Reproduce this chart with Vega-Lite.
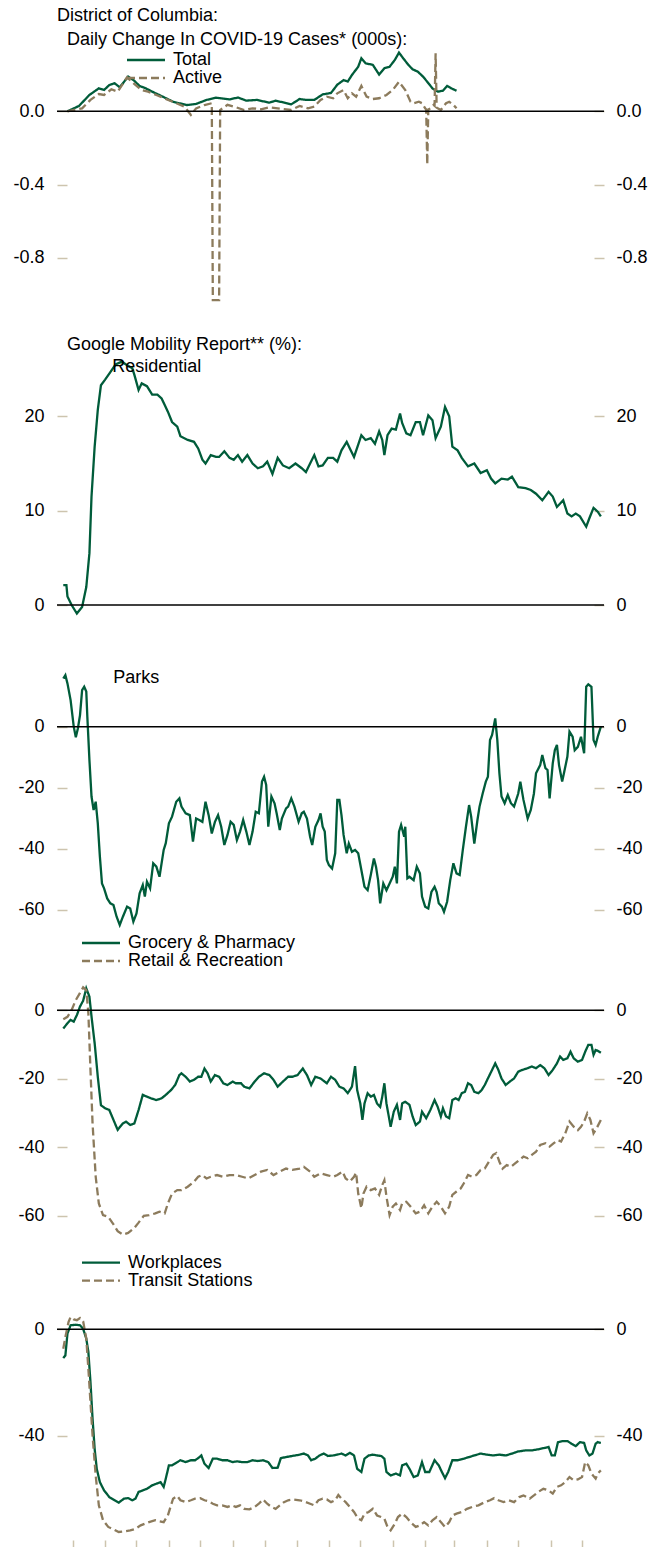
{
"$schema": "https://vega.github.io/schema/vega-lite/v6.json",
"padding": {"left": 12, "top": 0, "right": 0, "bottom": 0},
"background": "white",
"spacing": 0,
"config": {
  "font": "Liberation Sans",
  "view": {"stroke": null},
  "axis": {"grid": false, "domain": false, "labelFontSize": 18, "labelColor": "#000000", "tickColor": "#cdc4ae", "tickWidth": 1.5},
  "legend": {"orient": "none", "symbolType": "M-5,0H5", "symbolSize": 57.76, "symbolStrokeWidth": 2.3, "labelFontSize": 18, "labelColor": "#000000", "labelOffset": 18, "rowPadding": 0, "padding": 0, "labelLimit": 0},
  "title": {"anchor": "start", "frame": "group", "fontSize": 18, "fontWeight": "normal", "color": "#000000", "subtitleFontSize": 18, "subtitleColor": "#000000", "subtitlePadding": 6}
},
"datasets": {
"covid": [
{"date":"2020-02-25","series":"Total","value":0},{"date":"2020-03-07","series":"Total","value":0.029},{"date":"2020-03-17","series":"Total","value":0.089},{"date":"2020-03-26","series":"Total","value":0.125},{"date":"2020-03-31","series":"Total","value":0.116},{"date":"2020-04-05","series":"Total","value":0.143},{"date":"2020-04-10","series":"Total","value":0.153},{"date":"2020-04-15","series":"Total","value":0.131},{"date":"2020-04-23","series":"Total","value":0.189},{"date":"2020-04-28","series":"Total","value":0.171},{"date":"2020-05-04","series":"Total","value":0.138},{"date":"2020-05-10","series":"Total","value":0.125},{"date":"2020-05-16","series":"Total","value":0.107},{"date":"2020-05-26","series":"Total","value":0.08},{"date":"2020-06-05","series":"Total","value":0.052},{"date":"2020-06-18","series":"Total","value":0.034},{"date":"2020-06-27","series":"Total","value":0.04},{"date":"2020-07-07","series":"Total","value":0.062},{"date":"2020-07-16","series":"Total","value":0.074},{"date":"2020-07-29","series":"Total","value":0.065},{"date":"2020-08-06","series":"Total","value":0.075},{"date":"2020-08-14","series":"Total","value":0.058},{"date":"2020-08-24","series":"Total","value":0.062},{"date":"2020-09-05","series":"Total","value":0.047},{"date":"2020-09-11","series":"Total","value":0.058},{"date":"2020-09-26","series":"Total","value":0.038},{"date":"2020-10-04","series":"Total","value":0.067},{"date":"2020-10-10","series":"Total","value":0.062},{"date":"2020-10-18","series":"Total","value":0.062},{"date":"2020-10-26","series":"Total","value":0.092},{"date":"2020-11-03","series":"Total","value":0.1},{"date":"2020-11-09","series":"Total","value":0.145},{"date":"2020-11-15","series":"Total","value":0.17},{"date":"2020-11-19","series":"Total","value":0.162},{"date":"2020-11-23","series":"Total","value":0.198},{"date":"2020-11-29","series":"Total","value":0.243},{"date":"2020-12-02","series":"Total","value":0.289},{"date":"2020-12-06","series":"Total","value":0.262},{"date":"2020-12-13","series":"Total","value":0.253},{"date":"2020-12-19","series":"Total","value":0.2},{"date":"2020-12-24","series":"Total","value":0.235},{"date":"2020-12-29","series":"Total","value":0.243},{"date":"2021-01-03","series":"Total","value":0.28},{"date":"2021-01-07","series":"Total","value":0.32},{"date":"2021-01-11","series":"Total","value":0.289},{"date":"2021-01-16","series":"Total","value":0.253},{"date":"2021-01-20","series":"Total","value":0.229},{"date":"2021-01-25","series":"Total","value":0.216},{"date":"2021-01-30","series":"Total","value":0.189},{"date":"2021-02-03","series":"Total","value":0.161},{"date":"2021-02-08","series":"Total","value":0.125},{"date":"2021-02-13","series":"Total","value":0.107},{"date":"2021-02-18","series":"Total","value":0.112},{"date":"2021-02-22","series":"Total","value":0.138},{"date":"2021-02-26","series":"Total","value":0.125},{"date":"2021-03-03","series":"Total","value":0.112},
{"date":"2020-02-25","series":"Active","value":0},{"date":"2020-03-10","series":"Active","value":0.016},{"date":"2020-03-18","series":"Active","value":0.062},{"date":"2020-03-26","series":"Active","value":0.094},{"date":"2020-03-31","series":"Active","value":0.089},{"date":"2020-04-07","series":"Active","value":0.12},{"date":"2020-04-13","series":"Active","value":0.107},{"date":"2020-04-22","series":"Active","value":0.185},{"date":"2020-04-28","series":"Active","value":0.153},{"date":"2020-05-06","series":"Active","value":0.116},{"date":"2020-05-12","series":"Active","value":0.107},{"date":"2020-05-20","series":"Active","value":0.089},{"date":"2020-05-30","series":"Active","value":0.065},{"date":"2020-06-08","series":"Active","value":0.044},{"date":"2020-06-16","series":"Active","value":0.025},{"date":"2020-06-22","series":"Active","value":-0.02},{"date":"2020-06-27","series":"Active","value":0.016},{"date":"2020-07-05","series":"Active","value":0.034},{"date":"2020-07-12","series":"Active","value":0.044},{"date":"2020-07-13","series":"Active","value":-1.03},{"date":"2020-07-19","series":"Active","value":-1.03},{"date":"2020-07-20","series":"Active","value":0.007},{"date":"2020-07-27","series":"Active","value":0.035},{"date":"2020-08-04","series":"Active","value":0.022},{"date":"2020-08-12","series":"Active","value":0.007},{"date":"2020-08-20","series":"Active","value":0.016},{"date":"2020-08-28","series":"Active","value":0.011},{"date":"2020-09-05","series":"Active","value":0.022},{"date":"2020-09-13","series":"Active","value":0.016},{"date":"2020-09-26","series":"Active","value":0.007},{"date":"2020-10-04","series":"Active","value":0.029},{"date":"2020-10-12","series":"Active","value":0.016},{"date":"2020-10-18","series":"Active","value":0.025},{"date":"2020-10-24","series":"Active","value":0.062},{"date":"2020-10-30","series":"Active","value":0.08},{"date":"2020-11-05","series":"Active","value":0.071},{"date":"2020-11-09","series":"Active","value":0.098},{"date":"2020-11-15","series":"Active","value":0.116},{"date":"2020-11-19","series":"Active","value":0.071},{"date":"2020-11-23","series":"Active","value":0.098},{"date":"2020-11-27","series":"Active","value":0.08},{"date":"2020-12-02","series":"Active","value":0.138},{"date":"2020-12-07","series":"Active","value":0.08},{"date":"2020-12-13","series":"Active","value":0.067},{"date":"2020-12-19","series":"Active","value":0.071},{"date":"2020-12-26","series":"Active","value":0.089},{"date":"2021-01-01","series":"Active","value":0.116},{"date":"2021-01-07","series":"Active","value":0.161},{"date":"2021-01-13","series":"Active","value":0.116},{"date":"2021-01-18","series":"Active","value":0.052},{"date":"2021-01-21","series":"Active","value":0.044},{"date":"2021-01-26","series":"Active","value":0.052},{"date":"2021-01-29","series":"Active","value":0.044},{"date":"2021-02-01","series":"Active","value":0.016},{"date":"2021-02-02","series":"Active","value":0.01},{"date":"2021-02-03","series":"Active","value":-0.29},{"date":"2021-02-04","series":"Active","value":0.01},{"date":"2021-02-06","series":"Active","value":0.016},{"date":"2021-02-09","series":"Active","value":0.035},{"date":"2021-02-10","series":"Active","value":0.03},{"date":"2021-02-11","series":"Active","value":0.316},{"date":"2021-02-12","series":"Active","value":0.02},{"date":"2021-02-13","series":"Active","value":0.016},{"date":"2021-02-16","series":"Active","value":0.007},{"date":"2021-02-21","series":"Active","value":0.044},{"date":"2021-02-24","series":"Active","value":0.052},{"date":"2021-02-28","series":"Active","value":0.035},{"date":"2021-03-03","series":"Active","value":0.016}
],
"residential": [
{"date":"2020-02-21","series":"Residential","value":2.1},{"date":"2020-02-24","series":"Residential","value":2.1},{"date":"2020-02-25","series":"Residential","value":0.9},{"date":"2020-02-29","series":"Residential","value":0},{"date":"2020-03-05","series":"Residential","value":-0.9},{"date":"2020-03-10","series":"Residential","value":-0.2},{"date":"2020-03-14","series":"Residential","value":1.9},{"date":"2020-03-17","series":"Residential","value":5.5},{"date":"2020-03-19","series":"Residential","value":11.5},{"date":"2020-03-22","series":"Residential","value":16.8},{"date":"2020-03-25","series":"Residential","value":20.7},{"date":"2020-03-28","series":"Residential","value":23.3},{"date":"2020-04-01","series":"Residential","value":23.9},{"date":"2020-04-06","series":"Residential","value":24.7},{"date":"2020-04-11","series":"Residential","value":25.5},{"date":"2020-04-17","series":"Residential","value":25.8},{"date":"2020-04-21","series":"Residential","value":25.5},{"date":"2020-04-27","series":"Residential","value":25.1},{"date":"2020-04-29","series":"Residential","value":24.4},{"date":"2020-05-03","series":"Residential","value":22.8},{"date":"2020-05-06","series":"Residential","value":23.5},{"date":"2020-05-11","series":"Residential","value":23.2},{"date":"2020-05-16","series":"Residential","value":22.3},{"date":"2020-05-21","series":"Residential","value":22.3},{"date":"2020-05-25","series":"Residential","value":21.9},{"date":"2020-05-28","series":"Residential","value":21.2},{"date":"2020-05-31","series":"Residential","value":20.5},{"date":"2020-06-04","series":"Residential","value":19.4},{"date":"2020-06-09","series":"Residential","value":18.9},{"date":"2020-06-12","series":"Residential","value":17.9},{"date":"2020-06-19","series":"Residential","value":17.5},{"date":"2020-06-25","series":"Residential","value":17.3},{"date":"2020-06-29","series":"Residential","value":16.6},{"date":"2020-07-03","series":"Residential","value":15.4},{"date":"2020-07-06","series":"Residential","value":15.0},{"date":"2020-07-11","series":"Residential","value":15.9},{"date":"2020-07-16","series":"Residential","value":15.7},{"date":"2020-07-19","series":"Residential","value":15.7},{"date":"2020-07-24","series":"Residential","value":16.3},{"date":"2020-07-29","series":"Residential","value":15.6},{"date":"2020-08-02","series":"Residential","value":15.4},{"date":"2020-08-06","series":"Residential","value":15.9},{"date":"2020-08-10","series":"Residential","value":15.2},{"date":"2020-08-15","series":"Residential","value":15.9},{"date":"2020-08-20","series":"Residential","value":15.0},{"date":"2020-08-25","series":"Residential","value":14.5},{"date":"2020-08-30","series":"Residential","value":14.7},{"date":"2020-09-03","series":"Residential","value":15.2},{"date":"2020-09-08","series":"Residential","value":13.9},{"date":"2020-09-13","series":"Residential","value":15.6},{"date":"2020-09-18","series":"Residential","value":14.8},{"date":"2020-09-24","series":"Residential","value":14.5},{"date":"2020-09-30","series":"Residential","value":15.0},{"date":"2020-10-06","series":"Residential","value":14.5},{"date":"2020-10-10","series":"Residential","value":14.1},{"date":"2020-10-14","series":"Residential","value":15.0},{"date":"2020-10-18","series":"Residential","value":15.9},{"date":"2020-10-22","series":"Residential","value":14.7},{"date":"2020-10-26","series":"Residential","value":14.8},{"date":"2020-10-31","series":"Residential","value":15.6},{"date":"2020-11-05","series":"Residential","value":15.6},{"date":"2020-11-09","series":"Residential","value":15.2},{"date":"2020-11-13","series":"Residential","value":16.4},{"date":"2020-11-18","series":"Residential","value":17.3},{"date":"2020-11-21","series":"Residential","value":16.6},{"date":"2020-11-25","series":"Residential","value":15.7},{"date":"2020-11-29","series":"Residential","value":17.0},{"date":"2020-12-02","series":"Residential","value":18.0},{"date":"2020-12-06","series":"Residential","value":17.5},{"date":"2020-12-11","series":"Residential","value":17.7},{"date":"2020-12-15","series":"Residential","value":17.1},{"date":"2020-12-19","series":"Residential","value":18.4},{"date":"2020-12-22","series":"Residential","value":17.5},{"date":"2020-12-24","series":"Residential","value":15.9},{"date":"2020-12-27","series":"Residential","value":18.0},{"date":"2020-12-31","series":"Residential","value":18.7},{"date":"2021-01-04","series":"Residential","value":18.6},{"date":"2021-01-08","series":"Residential","value":20.3},{"date":"2021-01-10","series":"Residential","value":19.3},{"date":"2021-01-14","series":"Residential","value":18.2},{"date":"2021-01-18","series":"Residential","value":18.0},{"date":"2021-01-23","series":"Residential","value":19.4},{"date":"2021-01-27","series":"Residential","value":19.4},{"date":"2021-01-30","series":"Residential","value":18.0},{"date":"2021-02-04","series":"Residential","value":20.1},{"date":"2021-02-08","series":"Residential","value":19.6},{"date":"2021-02-11","series":"Residential","value":17.7},{"date":"2021-02-16","series":"Residential","value":18.9},{"date":"2021-02-20","series":"Residential","value":21.0},{"date":"2021-02-24","series":"Residential","value":20.0},{"date":"2021-02-27","series":"Residential","value":16.8},{"date":"2021-03-04","series":"Residential","value":16.4},{"date":"2021-03-08","series":"Residential","value":15.6},{"date":"2021-03-14","series":"Residential","value":14.7},{"date":"2021-03-20","series":"Residential","value":15.0},{"date":"2021-03-26","series":"Residential","value":14.0},{"date":"2021-04-01","series":"Residential","value":14.3},{"date":"2021-04-05","series":"Residential","value":13.4},{"date":"2021-04-09","series":"Residential","value":12.9},{"date":"2021-04-15","series":"Residential","value":13.4},{"date":"2021-04-21","series":"Residential","value":13.3},{"date":"2021-04-25","series":"Residential","value":13.6},{"date":"2021-05-01","series":"Residential","value":12.5},{"date":"2021-05-08","series":"Residential","value":12.4},{"date":"2021-05-13","series":"Residential","value":12.2},{"date":"2021-05-18","series":"Residential","value":11.8},{"date":"2021-05-24","series":"Residential","value":11.1},{"date":"2021-05-30","series":"Residential","value":12.0},{"date":"2021-06-03","series":"Residential","value":11.5},{"date":"2021-06-07","series":"Residential","value":10.4},{"date":"2021-06-13","series":"Residential","value":11.1},{"date":"2021-06-17","series":"Residential","value":9.7},{"date":"2021-06-21","series":"Residential","value":9.4},{"date":"2021-06-25","series":"Residential","value":9.7},{"date":"2021-06-29","series":"Residential","value":9.4},{"date":"2021-07-05","series":"Residential","value":8.3},{"date":"2021-07-08","series":"Residential","value":9.2},{"date":"2021-07-12","series":"Residential","value":10.3},{"date":"2021-07-16","series":"Residential","value":9.9},{"date":"2021-07-19","series":"Residential","value":9.4}
],
"parks": [
{"date":"2020-02-21","series":"Parks","value":15.8},{"date":"2020-02-23","series":"Parks","value":16.9},{"date":"2020-02-25","series":"Parks","value":14.2},{"date":"2020-02-28","series":"Parks","value":8.7},{"date":"2020-03-02","series":"Parks","value":0},{"date":"2020-03-04","series":"Parks","value":-3.5},{"date":"2020-03-06","series":"Parks","value":-0.5},{"date":"2020-03-08","series":"Parks","value":3.8},{"date":"2020-03-10","series":"Parks","value":12.0},{"date":"2020-03-12","series":"Parks","value":13.1},{"date":"2020-03-14","series":"Parks","value":11.5},{"date":"2020-03-15","series":"Parks","value":3.3},{"date":"2020-03-17","series":"Parks","value":-10.9},{"date":"2020-03-19","series":"Parks","value":-22.9},{"date":"2020-03-21","series":"Parks","value":-27.3},{"date":"2020-03-23","series":"Parks","value":-24.6},{"date":"2020-03-25","series":"Parks","value":-31.7},{"date":"2020-03-27","series":"Parks","value":-42.6},{"date":"2020-03-29","series":"Parks","value":-51.4},{"date":"2020-03-31","series":"Parks","value":-53.0},{"date":"2020-04-03","series":"Parks","value":-56.3},{"date":"2020-04-06","series":"Parks","value":-57.9},{"date":"2020-04-09","series":"Parks","value":-58.5},{"date":"2020-04-12","series":"Parks","value":-62.3},{"date":"2020-04-15","series":"Parks","value":-65.0},{"date":"2020-04-18","series":"Parks","value":-62.3},{"date":"2020-04-22","series":"Parks","value":-59.0},{"date":"2020-04-25","series":"Parks","value":-59.6},{"date":"2020-04-28","series":"Parks","value":-63.9},{"date":"2020-05-01","series":"Parks","value":-61.2},{"date":"2020-05-04","series":"Parks","value":-54.6},{"date":"2020-05-07","series":"Parks","value":-51.9},{"date":"2020-05-09","series":"Parks","value":-55.7},{"date":"2020-05-11","series":"Parks","value":-50.8},{"date":"2020-05-14","series":"Parks","value":-53.0},{"date":"2020-05-17","series":"Parks","value":-44.8},{"date":"2020-05-20","series":"Parks","value":-45.9},{"date":"2020-05-23","series":"Parks","value":-49.2},{"date":"2020-05-27","series":"Parks","value":-40.4},{"date":"2020-05-29","series":"Parks","value":-38.2},{"date":"2020-06-01","series":"Parks","value":-31.7},{"date":"2020-06-04","series":"Parks","value":-29.5},{"date":"2020-06-08","series":"Parks","value":-24.6},{"date":"2020-06-11","series":"Parks","value":-23.5},{"date":"2020-06-13","series":"Parks","value":-26.2},{"date":"2020-06-17","series":"Parks","value":-28.4},{"date":"2020-06-21","series":"Parks","value":-29.0},{"date":"2020-06-24","series":"Parks","value":-37.7},{"date":"2020-06-27","series":"Parks","value":-30.1},{"date":"2020-06-30","series":"Parks","value":-30.6},{"date":"2020-07-03","series":"Parks","value":-31.2},{"date":"2020-07-06","series":"Parks","value":-24.6},{"date":"2020-07-09","series":"Parks","value":-29.0},{"date":"2020-07-12","series":"Parks","value":-35.0},{"date":"2020-07-15","series":"Parks","value":-31.2},{"date":"2020-07-18","series":"Parks","value":-29.0},{"date":"2020-07-21","series":"Parks","value":-32.8},{"date":"2020-07-24","series":"Parks","value":-38.8},{"date":"2020-07-27","series":"Parks","value":-35.5},{"date":"2020-07-30","series":"Parks","value":-31.2},{"date":"2020-08-02","series":"Parks","value":-32.2},{"date":"2020-08-05","series":"Parks","value":-37.2},{"date":"2020-08-08","series":"Parks","value":-34.4},{"date":"2020-08-11","series":"Parks","value":-30.6},{"date":"2020-08-14","series":"Parks","value":-34.4},{"date":"2020-08-17","series":"Parks","value":-38.8},{"date":"2020-08-20","series":"Parks","value":-34.4},{"date":"2020-08-23","series":"Parks","value":-27.9},{"date":"2020-08-26","series":"Parks","value":-28.4},{"date":"2020-08-29","series":"Parks","value":-18.0},{"date":"2020-08-31","series":"Parks","value":-16.4},{"date":"2020-09-02","series":"Parks","value":-19.1},{"date":"2020-09-04","series":"Parks","value":-32.8},{"date":"2020-09-07","series":"Parks","value":-22.9},{"date":"2020-09-10","series":"Parks","value":-25.1},{"date":"2020-09-12","series":"Parks","value":-28.4},{"date":"2020-09-15","series":"Parks","value":-33.9},{"date":"2020-09-17","series":"Parks","value":-30.1},{"date":"2020-09-21","series":"Parks","value":-26.8},{"date":"2020-09-23","series":"Parks","value":-26.2},{"date":"2020-09-26","series":"Parks","value":-23.5},{"date":"2020-09-29","series":"Parks","value":-26.2},{"date":"2020-10-03","series":"Parks","value":-31.2},{"date":"2020-10-06","series":"Parks","value":-28.4},{"date":"2020-10-08","series":"Parks","value":-27.9},{"date":"2020-10-11","series":"Parks","value":-30.1},{"date":"2020-10-14","series":"Parks","value":-36.1},{"date":"2020-10-16","series":"Parks","value":-38.8},{"date":"2020-10-19","series":"Parks","value":-32.8},{"date":"2020-10-22","series":"Parks","value":-30.6},{"date":"2020-10-24","series":"Parks","value":-28.4},{"date":"2020-10-26","series":"Parks","value":-32.8},{"date":"2020-10-28","series":"Parks","value":-34.4},{"date":"2020-10-30","series":"Parks","value":-43.7},{"date":"2020-11-01","series":"Parks","value":-45.4},{"date":"2020-11-04","series":"Parks","value":-46.5},{"date":"2020-11-07","series":"Parks","value":-41.5},{"date":"2020-11-09","series":"Parks","value":-24.0},{"date":"2020-11-11","series":"Parks","value":-24.0},{"date":"2020-11-13","series":"Parks","value":-29.0},{"date":"2020-11-15","series":"Parks","value":-35.5},{"date":"2020-11-18","series":"Parks","value":-41.5},{"date":"2020-11-20","series":"Parks","value":-38.3},{"date":"2020-11-23","series":"Parks","value":-41.0},{"date":"2020-11-26","series":"Parks","value":-40.4},{"date":"2020-11-29","series":"Parks","value":-41.5},{"date":"2020-12-02","series":"Parks","value":-47.0},{"date":"2020-12-05","series":"Parks","value":-52.5},{"date":"2020-12-08","series":"Parks","value":-53.6},{"date":"2020-12-11","series":"Parks","value":-48.6},{"date":"2020-12-14","series":"Parks","value":-43.2},{"date":"2020-12-16","series":"Parks","value":-45.9},{"date":"2020-12-18","series":"Parks","value":-50.3},{"date":"2020-12-20","series":"Parks","value":-57.9},{"date":"2020-12-23","series":"Parks","value":-51.4},{"date":"2020-12-26","series":"Parks","value":-53.6},{"date":"2020-12-29","series":"Parks","value":-51.4},{"date":"2021-01-01","series":"Parks","value":-49.2},{"date":"2021-01-03","series":"Parks","value":-45.9},{"date":"2021-01-05","series":"Parks","value":-51.4},{"date":"2021-01-07","series":"Parks","value":-34.4},{"date":"2021-01-09","series":"Parks","value":-32.2},{"date":"2021-01-12","series":"Parks","value":-36.1},{"date":"2021-01-13","series":"Parks","value":-32.8},{"date":"2021-01-15","series":"Parks","value":-49.7},{"date":"2021-01-17","series":"Parks","value":-49.2},{"date":"2021-01-21","series":"Parks","value":-50.3},{"date":"2021-01-24","series":"Parks","value":-45.9},{"date":"2021-01-27","series":"Parks","value":-48.1},{"date":"2021-01-29","series":"Parks","value":-55.7},{"date":"2021-02-01","series":"Parks","value":-59.0},{"date":"2021-02-04","series":"Parks","value":-59.6},{"date":"2021-02-07","series":"Parks","value":-54.2},{"date":"2021-02-10","series":"Parks","value":-52.5},{"date":"2021-02-12","series":"Parks","value":-54.2},{"date":"2021-02-14","series":"Parks","value":-57.9},{"date":"2021-02-17","series":"Parks","value":-59.0},{"date":"2021-02-19","series":"Parks","value":-60.7},{"date":"2021-02-22","series":"Parks","value":-57.4},{"date":"2021-02-25","series":"Parks","value":-50.3},{"date":"2021-02-28","series":"Parks","value":-44.8},{"date":"2021-03-03","series":"Parks","value":-48.1},{"date":"2021-03-06","series":"Parks","value":-48.6},{"date":"2021-03-09","series":"Parks","value":-40.4},{"date":"2021-03-12","series":"Parks","value":-32.8},{"date":"2021-03-15","series":"Parks","value":-25.7},{"date":"2021-03-17","series":"Parks","value":-29.5},{"date":"2021-03-20","series":"Parks","value":-38.3},{"date":"2021-03-23","series":"Parks","value":-30.6},{"date":"2021-03-25","series":"Parks","value":-26.2},{"date":"2021-03-28","series":"Parks","value":-21.9},{"date":"2021-03-31","series":"Parks","value":-18.0},{"date":"2021-04-02","series":"Parks","value":-16.4},{"date":"2021-04-04","series":"Parks","value":-4.4},{"date":"2021-04-06","series":"Parks","value":-2.7},{"date":"2021-04-09","series":"Parks","value":2.7},{"date":"2021-04-11","series":"Parks","value":-4.4},{"date":"2021-04-13","series":"Parks","value":-15.3},{"date":"2021-04-15","series":"Parks","value":-22.9},{"date":"2021-04-18","series":"Parks","value":-25.1},{"date":"2021-04-21","series":"Parks","value":-22.4},{"date":"2021-04-24","series":"Parks","value":-25.1},{"date":"2021-04-27","series":"Parks","value":-26.2},{"date":"2021-05-01","series":"Parks","value":-21.9},{"date":"2021-05-03","series":"Parks","value":-18.0},{"date":"2021-05-06","series":"Parks","value":-24.0},{"date":"2021-05-10","series":"Parks","value":-30.1},{"date":"2021-05-13","series":"Parks","value":-27.3},{"date":"2021-05-16","series":"Parks","value":-21.9},{"date":"2021-05-18","series":"Parks","value":-15.3},{"date":"2021-05-22","series":"Parks","value":-12.6},{"date":"2021-05-24","series":"Parks","value":-9.3},{"date":"2021-05-27","series":"Parks","value":-13.6},{"date":"2021-05-29","series":"Parks","value":-14.2},{"date":"2021-05-31","series":"Parks","value":-23.5},{"date":"2021-06-03","series":"Parks","value":-12.0},{"date":"2021-06-05","series":"Parks","value":-7.7},{"date":"2021-06-07","series":"Parks","value":-6.0},{"date":"2021-06-09","series":"Parks","value":-12.6},{"date":"2021-06-12","series":"Parks","value":-18.0},{"date":"2021-06-14","series":"Parks","value":-14.8},{"date":"2021-06-17","series":"Parks","value":-9.8},{"date":"2021-06-19","series":"Parks","value":-1.6},{"date":"2021-06-22","series":"Parks","value":-3.3},{"date":"2021-06-24","series":"Parks","value":-7.7},{"date":"2021-06-27","series":"Parks","value":-6.6},{"date":"2021-06-30","series":"Parks","value":-3.3},{"date":"2021-07-03","series":"Parks","value":-8.7},{"date":"2021-07-05","series":"Parks","value":13.1},{"date":"2021-07-07","series":"Parks","value":13.9},{"date":"2021-07-10","series":"Parks","value":13.1},{"date":"2021-07-12","series":"Parks","value":-4.4},{"date":"2021-07-14","series":"Parks","value":-6.0},{"date":"2021-07-16","series":"Parks","value":-3.3},{"date":"2021-07-19","series":"Parks","value":0}
],
"grocery": [
{"date":"2020-02-21","series":"Grocery & Pharmacy","value":-5.3},{"date":"2020-02-25","series":"Grocery & Pharmacy","value":-3.8},{"date":"2020-02-28","series":"Grocery & Pharmacy","value":-2.8},{"date":"2020-03-02","series":"Grocery & Pharmacy","value":-3.3},{"date":"2020-03-05","series":"Grocery & Pharmacy","value":-1.4},{"date":"2020-03-08","series":"Grocery & Pharmacy","value":1.1},{"date":"2020-03-11","series":"Grocery & Pharmacy","value":2.8},{"date":"2020-03-14","series":"Grocery & Pharmacy","value":6.4},{"date":"2020-03-17","series":"Grocery & Pharmacy","value":4.0},{"date":"2020-03-19","series":"Grocery & Pharmacy","value":-1.8},{"date":"2020-03-22","series":"Grocery & Pharmacy","value":-9.6},{"date":"2020-03-25","series":"Grocery & Pharmacy","value":-19.4},{"date":"2020-03-28","series":"Grocery & Pharmacy","value":-27.7},{"date":"2020-04-01","series":"Grocery & Pharmacy","value":-28.6},{"date":"2020-04-05","series":"Grocery & Pharmacy","value":-29.1},{"date":"2020-04-09","series":"Grocery & Pharmacy","value":-32.0},{"date":"2020-04-13","series":"Grocery & Pharmacy","value":-34.9},{"date":"2020-04-18","series":"Grocery & Pharmacy","value":-33.0},{"date":"2020-04-21","series":"Grocery & Pharmacy","value":-32.5},{"date":"2020-04-25","series":"Grocery & Pharmacy","value":-33.5},{"date":"2020-04-29","series":"Grocery & Pharmacy","value":-33.0},{"date":"2020-05-03","series":"Grocery & Pharmacy","value":-29.1},{"date":"2020-05-07","series":"Grocery & Pharmacy","value":-24.7},{"date":"2020-05-11","series":"Grocery & Pharmacy","value":-25.2},{"date":"2020-05-15","series":"Grocery & Pharmacy","value":-25.7},{"date":"2020-05-20","series":"Grocery & Pharmacy","value":-26.2},{"date":"2020-05-25","series":"Grocery & Pharmacy","value":-25.7},{"date":"2020-05-29","series":"Grocery & Pharmacy","value":-24.7},{"date":"2020-06-03","series":"Grocery & Pharmacy","value":-23.3},{"date":"2020-06-07","series":"Grocery & Pharmacy","value":-21.8},{"date":"2020-06-11","series":"Grocery & Pharmacy","value":-18.9},{"date":"2020-06-13","series":"Grocery & Pharmacy","value":-18.4},{"date":"2020-06-17","series":"Grocery & Pharmacy","value":-19.4},{"date":"2020-06-21","series":"Grocery & Pharmacy","value":-20.8},{"date":"2020-06-25","series":"Grocery & Pharmacy","value":-20.3},{"date":"2020-06-29","series":"Grocery & Pharmacy","value":-19.4},{"date":"2020-07-02","series":"Grocery & Pharmacy","value":-19.4},{"date":"2020-07-05","series":"Grocery & Pharmacy","value":-17.0},{"date":"2020-07-08","series":"Grocery & Pharmacy","value":-18.4},{"date":"2020-07-11","series":"Grocery & Pharmacy","value":-20.8},{"date":"2020-07-15","series":"Grocery & Pharmacy","value":-18.9},{"date":"2020-07-19","series":"Grocery & Pharmacy","value":-19.4},{"date":"2020-07-23","series":"Grocery & Pharmacy","value":-21.3},{"date":"2020-07-27","series":"Grocery & Pharmacy","value":-21.8},{"date":"2020-08-01","series":"Grocery & Pharmacy","value":-20.8},{"date":"2020-08-04","series":"Grocery & Pharmacy","value":-21.3},{"date":"2020-08-09","series":"Grocery & Pharmacy","value":-21.3},{"date":"2020-08-12","series":"Grocery & Pharmacy","value":-22.3},{"date":"2020-08-17","series":"Grocery & Pharmacy","value":-22.8},{"date":"2020-08-22","series":"Grocery & Pharmacy","value":-20.8},{"date":"2020-08-26","series":"Grocery & Pharmacy","value":-19.4},{"date":"2020-08-31","series":"Grocery & Pharmacy","value":-18.4},{"date":"2020-09-05","series":"Grocery & Pharmacy","value":-18.9},{"date":"2020-09-09","series":"Grocery & Pharmacy","value":-20.3},{"date":"2020-09-13","series":"Grocery & Pharmacy","value":-22.3},{"date":"2020-09-18","series":"Grocery & Pharmacy","value":-20.8},{"date":"2020-09-23","series":"Grocery & Pharmacy","value":-19.4},{"date":"2020-09-27","series":"Grocery & Pharmacy","value":-19.4},{"date":"2020-10-02","series":"Grocery & Pharmacy","value":-18.9},{"date":"2020-10-07","series":"Grocery & Pharmacy","value":-17.0},{"date":"2020-10-11","series":"Grocery & Pharmacy","value":-18.9},{"date":"2020-10-15","series":"Grocery & Pharmacy","value":-21.8},{"date":"2020-10-19","series":"Grocery & Pharmacy","value":-19.4},{"date":"2020-10-24","series":"Grocery & Pharmacy","value":-19.9},{"date":"2020-10-30","series":"Grocery & Pharmacy","value":-21.3},{"date":"2020-11-03","series":"Grocery & Pharmacy","value":-19.4},{"date":"2020-11-07","series":"Grocery & Pharmacy","value":-20.3},{"date":"2020-11-11","series":"Grocery & Pharmacy","value":-22.3},{"date":"2020-11-15","series":"Grocery & Pharmacy","value":-22.8},{"date":"2020-11-19","series":"Grocery & Pharmacy","value":-24.2},{"date":"2020-11-23","series":"Grocery & Pharmacy","value":-22.3},{"date":"2020-11-26","series":"Grocery & Pharmacy","value":-16.3},{"date":"2020-11-28","series":"Grocery & Pharmacy","value":-23.3},{"date":"2020-12-01","series":"Grocery & Pharmacy","value":-27.2},{"date":"2020-12-03","series":"Grocery & Pharmacy","value":-32.0},{"date":"2020-12-05","series":"Grocery & Pharmacy","value":-27.2},{"date":"2020-12-08","series":"Grocery & Pharmacy","value":-24.2},{"date":"2020-12-11","series":"Grocery & Pharmacy","value":-25.2},{"date":"2020-12-14","series":"Grocery & Pharmacy","value":-24.7},{"date":"2020-12-17","series":"Grocery & Pharmacy","value":-27.2},{"date":"2020-12-20","series":"Grocery & Pharmacy","value":-28.2},{"date":"2020-12-22","series":"Grocery & Pharmacy","value":-25.2},{"date":"2020-12-24","series":"Grocery & Pharmacy","value":-21.3},{"date":"2020-12-26","series":"Grocery & Pharmacy","value":-27.2},{"date":"2020-12-28","series":"Grocery & Pharmacy","value":-30.6},{"date":"2020-12-30","series":"Grocery & Pharmacy","value":-34.0},{"date":"2021-01-02","series":"Grocery & Pharmacy","value":-29.6},{"date":"2021-01-05","series":"Grocery & Pharmacy","value":-27.6},{"date":"2021-01-08","series":"Grocery & Pharmacy","value":-32.0},{"date":"2021-01-10","series":"Grocery & Pharmacy","value":-27.2},{"date":"2021-01-13","series":"Grocery & Pharmacy","value":-26.7},{"date":"2021-01-17","series":"Grocery & Pharmacy","value":-27.6},{"date":"2021-01-20","series":"Grocery & Pharmacy","value":-31.0},{"date":"2021-01-23","series":"Grocery & Pharmacy","value":-33.5},{"date":"2021-01-27","series":"Grocery & Pharmacy","value":-32.5},{"date":"2021-01-29","series":"Grocery & Pharmacy","value":-29.6},{"date":"2021-02-02","series":"Grocery & Pharmacy","value":-31.5},{"date":"2021-02-06","series":"Grocery & Pharmacy","value":-29.1},{"date":"2021-02-10","series":"Grocery & Pharmacy","value":-26.2},{"date":"2021-02-13","series":"Grocery & Pharmacy","value":-28.2},{"date":"2021-02-16","series":"Grocery & Pharmacy","value":-31.0},{"date":"2021-02-18","series":"Grocery & Pharmacy","value":-28.6},{"date":"2021-02-21","series":"Grocery & Pharmacy","value":-31.0},{"date":"2021-02-24","series":"Grocery & Pharmacy","value":-31.5},{"date":"2021-02-27","series":"Grocery & Pharmacy","value":-26.2},{"date":"2021-03-02","series":"Grocery & Pharmacy","value":-25.7},{"date":"2021-03-05","series":"Grocery & Pharmacy","value":-26.2},{"date":"2021-03-08","series":"Grocery & Pharmacy","value":-24.2},{"date":"2021-03-11","series":"Grocery & Pharmacy","value":-23.8},{"date":"2021-03-14","series":"Grocery & Pharmacy","value":-21.3},{"date":"2021-03-17","series":"Grocery & Pharmacy","value":-21.8},{"date":"2021-03-20","series":"Grocery & Pharmacy","value":-23.8},{"date":"2021-03-24","series":"Grocery & Pharmacy","value":-24.2},{"date":"2021-03-27","series":"Grocery & Pharmacy","value":-23.3},{"date":"2021-03-30","series":"Grocery & Pharmacy","value":-21.8},{"date":"2021-04-02","series":"Grocery & Pharmacy","value":-19.9},{"date":"2021-04-06","series":"Grocery & Pharmacy","value":-17.4},{"date":"2021-04-09","series":"Grocery & Pharmacy","value":-15.5},{"date":"2021-04-12","series":"Grocery & Pharmacy","value":-17.4},{"date":"2021-04-15","series":"Grocery & Pharmacy","value":-19.9},{"date":"2021-04-19","series":"Grocery & Pharmacy","value":-21.8},{"date":"2021-04-23","series":"Grocery & Pharmacy","value":-20.8},{"date":"2021-04-27","series":"Grocery & Pharmacy","value":-19.9},{"date":"2021-05-01","series":"Grocery & Pharmacy","value":-17.9},{"date":"2021-05-05","series":"Grocery & Pharmacy","value":-17.4},{"date":"2021-05-10","series":"Grocery & Pharmacy","value":-16.9},{"date":"2021-05-14","series":"Grocery & Pharmacy","value":-16.4},{"date":"2021-05-18","series":"Grocery & Pharmacy","value":-16.9},{"date":"2021-05-22","series":"Grocery & Pharmacy","value":-16.0},{"date":"2021-05-26","series":"Grocery & Pharmacy","value":-16.9},{"date":"2021-05-30","series":"Grocery & Pharmacy","value":-18.9},{"date":"2021-06-03","series":"Grocery & Pharmacy","value":-17.4},{"date":"2021-06-07","series":"Grocery & Pharmacy","value":-15.5},{"date":"2021-06-10","series":"Grocery & Pharmacy","value":-13.5},{"date":"2021-06-13","series":"Grocery & Pharmacy","value":-14.5},{"date":"2021-06-17","series":"Grocery & Pharmacy","value":-14.0},{"date":"2021-06-20","series":"Grocery & Pharmacy","value":-12.1},{"date":"2021-06-23","series":"Grocery & Pharmacy","value":-14.0},{"date":"2021-06-27","series":"Grocery & Pharmacy","value":-15.0},{"date":"2021-07-01","series":"Grocery & Pharmacy","value":-14.5},{"date":"2021-07-04","series":"Grocery & Pharmacy","value":-12.1},{"date":"2021-07-07","series":"Grocery & Pharmacy","value":-10.1},{"date":"2021-07-10","series":"Grocery & Pharmacy","value":-10.1},{"date":"2021-07-12","series":"Grocery & Pharmacy","value":-13.0},{"date":"2021-07-14","series":"Grocery & Pharmacy","value":-11.6},{"date":"2021-07-16","series":"Grocery & Pharmacy","value":-11.8},{"date":"2021-07-19","series":"Grocery & Pharmacy","value":-12.4},
{"date":"2020-02-21","series":"Retail & Recreation","value":-2.6},{"date":"2020-02-25","series":"Retail & Recreation","value":-1.9},{"date":"2020-02-29","series":"Retail & Recreation","value":0.1},{"date":"2020-03-04","series":"Retail & Recreation","value":3.0},{"date":"2020-03-08","series":"Retail & Recreation","value":5.1},{"date":"2020-03-11","series":"Retail & Recreation","value":6.7},{"date":"2020-03-14","series":"Retail & Recreation","value":5.9},{"date":"2020-03-16","series":"Retail & Recreation","value":-0.9},{"date":"2020-03-18","series":"Retail & Recreation","value":-17.4},{"date":"2020-03-20","series":"Retail & Recreation","value":-33.0},{"date":"2020-03-23","series":"Retail & Recreation","value":-48.6},{"date":"2020-03-26","series":"Retail & Recreation","value":-56.4},{"date":"2020-03-30","series":"Retail & Recreation","value":-59.8},{"date":"2020-04-04","series":"Retail & Recreation","value":-60.3},{"date":"2020-04-09","series":"Retail & Recreation","value":-62.5},{"date":"2020-04-13","series":"Retail & Recreation","value":-64.5},{"date":"2020-04-18","series":"Retail & Recreation","value":-65.5},{"date":"2020-04-23","series":"Retail & Recreation","value":-65.0},{"date":"2020-04-29","series":"Retail & Recreation","value":-63.5},{"date":"2020-05-03","series":"Retail & Recreation","value":-62.0},{"date":"2020-05-08","series":"Retail & Recreation","value":-60.0},{"date":"2020-05-13","series":"Retail & Recreation","value":-59.8},{"date":"2020-05-19","series":"Retail & Recreation","value":-59.3},{"date":"2020-05-23","series":"Retail & Recreation","value":-58.8},{"date":"2020-05-28","series":"Retail & Recreation","value":-59.3},{"date":"2020-05-31","series":"Retail & Recreation","value":-56.4},{"date":"2020-06-04","series":"Retail & Recreation","value":-53.5},{"date":"2020-06-09","series":"Retail & Recreation","value":-52.5},{"date":"2020-06-13","series":"Retail & Recreation","value":-52.5},{"date":"2020-06-19","series":"Retail & Recreation","value":-51.5},{"date":"2020-06-25","series":"Retail & Recreation","value":-50.0},{"date":"2020-06-29","series":"Retail & Recreation","value":-48.6},{"date":"2020-07-03","series":"Retail & Recreation","value":-48.1},{"date":"2020-07-07","series":"Retail & Recreation","value":-49.1},{"date":"2020-07-11","series":"Retail & Recreation","value":-48.6},{"date":"2020-07-17","series":"Retail & Recreation","value":-48.1},{"date":"2020-07-23","series":"Retail & Recreation","value":-48.6},{"date":"2020-07-29","series":"Retail & Recreation","value":-48.1},{"date":"2020-08-04","series":"Retail & Recreation","value":-48.1},{"date":"2020-08-10","series":"Retail & Recreation","value":-48.6},{"date":"2020-08-16","series":"Retail & Recreation","value":-49.1},{"date":"2020-08-22","series":"Retail & Recreation","value":-48.1},{"date":"2020-08-28","series":"Retail & Recreation","value":-47.1},{"date":"2020-09-03","series":"Retail & Recreation","value":-46.6},{"date":"2020-09-09","series":"Retail & Recreation","value":-48.1},{"date":"2020-09-15","series":"Retail & Recreation","value":-47.1},{"date":"2020-09-21","series":"Retail & Recreation","value":-46.2},{"date":"2020-09-27","series":"Retail & Recreation","value":-46.6},{"date":"2020-10-04","series":"Retail & Recreation","value":-46.2},{"date":"2020-10-08","series":"Retail & Recreation","value":-45.7},{"date":"2020-10-14","series":"Retail & Recreation","value":-47.1},{"date":"2020-10-18","series":"Retail & Recreation","value":-48.6},{"date":"2020-10-24","series":"Retail & Recreation","value":-47.6},{"date":"2020-10-30","series":"Retail & Recreation","value":-48.1},{"date":"2020-11-05","series":"Retail & Recreation","value":-48.6},{"date":"2020-11-09","series":"Retail & Recreation","value":-48.1},{"date":"2020-11-14","series":"Retail & Recreation","value":-47.1},{"date":"2020-11-17","series":"Retail & Recreation","value":-49.1},{"date":"2020-11-21","series":"Retail & Recreation","value":-50.0},{"date":"2020-11-25","series":"Retail & Recreation","value":-48.6},{"date":"2020-11-27","series":"Retail & Recreation","value":-47.4},{"date":"2020-11-29","series":"Retail & Recreation","value":-53.5},{"date":"2020-12-02","series":"Retail & Recreation","value":-57.8},{"date":"2020-12-04","series":"Retail & Recreation","value":-53.5},{"date":"2020-12-07","series":"Retail & Recreation","value":-51.5},{"date":"2020-12-11","series":"Retail & Recreation","value":-52.5},{"date":"2020-12-15","series":"Retail & Recreation","value":-52.0},{"date":"2020-12-19","series":"Retail & Recreation","value":-53.9},{"date":"2020-12-22","series":"Retail & Recreation","value":-51.0},{"date":"2020-12-24","series":"Retail & Recreation","value":-49.6},{"date":"2020-12-26","series":"Retail & Recreation","value":-54.4},{"date":"2020-12-29","series":"Retail & Recreation","value":-59.8},{"date":"2021-01-01","series":"Retail & Recreation","value":-57.3},{"date":"2021-01-04","series":"Retail & Recreation","value":-56.4},{"date":"2021-01-08","series":"Retail & Recreation","value":-58.3},{"date":"2021-01-10","series":"Retail & Recreation","value":-56.4},{"date":"2021-01-14","series":"Retail & Recreation","value":-55.9},{"date":"2021-01-18","series":"Retail & Recreation","value":-57.3},{"date":"2021-01-23","series":"Retail & Recreation","value":-59.3},{"date":"2021-01-27","series":"Retail & Recreation","value":-58.8},{"date":"2021-01-31","series":"Retail & Recreation","value":-56.9},{"date":"2021-02-04","series":"Retail & Recreation","value":-59.3},{"date":"2021-02-08","series":"Retail & Recreation","value":-57.3},{"date":"2021-02-12","series":"Retail & Recreation","value":-55.9},{"date":"2021-02-16","series":"Retail & Recreation","value":-57.3},{"date":"2021-02-20","series":"Retail & Recreation","value":-59.3},{"date":"2021-02-24","series":"Retail & Recreation","value":-57.3},{"date":"2021-02-27","series":"Retail & Recreation","value":-53.9},{"date":"2021-03-03","series":"Retail & Recreation","value":-52.9},{"date":"2021-03-07","series":"Retail & Recreation","value":-52.0},{"date":"2021-03-10","series":"Retail & Recreation","value":-50.5},{"date":"2021-03-14","series":"Retail & Recreation","value":-48.1},{"date":"2021-03-18","series":"Retail & Recreation","value":-48.6},{"date":"2021-03-22","series":"Retail & Recreation","value":-48.1},{"date":"2021-03-26","series":"Retail & Recreation","value":-46.6},{"date":"2021-03-30","series":"Retail & Recreation","value":-46.2},{"date":"2021-04-03","series":"Retail & Recreation","value":-44.2},{"date":"2021-04-07","series":"Retail & Recreation","value":-42.2},{"date":"2021-04-10","series":"Retail & Recreation","value":-41.7},{"date":"2021-04-13","series":"Retail & Recreation","value":-44.2},{"date":"2021-04-16","series":"Retail & Recreation","value":-46.2},{"date":"2021-04-20","series":"Retail & Recreation","value":-45.2},{"date":"2021-04-24","series":"Retail & Recreation","value":-45.7},{"date":"2021-04-28","series":"Retail & Recreation","value":-44.7},{"date":"2021-05-02","series":"Retail & Recreation","value":-43.7},{"date":"2021-05-06","series":"Retail & Recreation","value":-42.7},{"date":"2021-05-10","series":"Retail & Recreation","value":-43.2},{"date":"2021-05-14","series":"Retail & Recreation","value":-42.2},{"date":"2021-05-18","series":"Retail & Recreation","value":-41.3},{"date":"2021-05-22","series":"Retail & Recreation","value":-39.3},{"date":"2021-05-27","series":"Retail & Recreation","value":-38.8},{"date":"2021-05-31","series":"Retail & Recreation","value":-39.8},{"date":"2021-06-04","series":"Retail & Recreation","value":-38.8},{"date":"2021-06-08","series":"Retail & Recreation","value":-37.9},{"date":"2021-06-11","series":"Retail & Recreation","value":-38.3},{"date":"2021-06-15","series":"Retail & Recreation","value":-35.9},{"date":"2021-06-19","series":"Retail & Recreation","value":-32.5},{"date":"2021-06-23","series":"Retail & Recreation","value":-34.0},{"date":"2021-06-27","series":"Retail & Recreation","value":-35.0},{"date":"2021-06-30","series":"Retail & Recreation","value":-34.0},{"date":"2021-07-03","series":"Retail & Recreation","value":-32.5},{"date":"2021-07-06","series":"Retail & Recreation","value":-30.1},{"date":"2021-07-09","series":"Retail & Recreation","value":-32.0},{"date":"2021-07-12","series":"Retail & Recreation","value":-35.9},{"date":"2021-07-15","series":"Retail & Recreation","value":-34.4},{"date":"2021-07-19","series":"Retail & Recreation","value":-32.0}
],
"work": [
{"date":"2020-02-21","series":"Workplaces","value":-10.8},{"date":"2020-02-23","series":"Workplaces","value":-9.8},{"date":"2020-02-25","series":"Workplaces","value":-1.6},{"date":"2020-02-28","series":"Workplaces","value":1.5},{"date":"2020-03-04","series":"Workplaces","value":1.7},{"date":"2020-03-08","series":"Workplaces","value":1.5},{"date":"2020-03-11","series":"Workplaces","value":0.2},{"date":"2020-03-14","series":"Workplaces","value":-3.5},{"date":"2020-03-16","series":"Workplaces","value":-8.5},{"date":"2020-03-18","series":"Workplaces","value":-19.8},{"date":"2020-03-20","series":"Workplaces","value":-33.5},{"date":"2020-03-22","series":"Workplaces","value":-44.8},{"date":"2020-03-24","series":"Workplaces","value":-52.3},{"date":"2020-03-27","series":"Workplaces","value":-57.3},{"date":"2020-03-31","series":"Workplaces","value":-60.4},{"date":"2020-04-05","series":"Workplaces","value":-62.9},{"date":"2020-04-10","series":"Workplaces","value":-64.1},{"date":"2020-04-14","series":"Workplaces","value":-65.0},{"date":"2020-04-19","series":"Workplaces","value":-63.5},{"date":"2020-04-23","series":"Workplaces","value":-63.3},{"date":"2020-04-27","series":"Workplaces","value":-64.1},{"date":"2020-04-30","series":"Workplaces","value":-63.5},{"date":"2020-05-03","series":"Workplaces","value":-61.0},{"date":"2020-05-07","series":"Workplaces","value":-60.4},{"date":"2020-05-11","series":"Workplaces","value":-59.8},{"date":"2020-05-16","series":"Workplaces","value":-58.5},{"date":"2020-05-20","series":"Workplaces","value":-57.9},{"date":"2020-05-24","series":"Workplaces","value":-57.3},{"date":"2020-05-27","series":"Workplaces","value":-59.1},{"date":"2020-05-29","series":"Workplaces","value":-56.0},{"date":"2020-06-01","series":"Workplaces","value":-51.0},{"date":"2020-06-04","series":"Workplaces","value":-51.0},{"date":"2020-06-09","series":"Workplaces","value":-49.8},{"date":"2020-06-12","series":"Workplaces","value":-49.1},{"date":"2020-06-17","series":"Workplaces","value":-49.8},{"date":"2020-06-22","series":"Workplaces","value":-49.1},{"date":"2020-06-26","series":"Workplaces","value":-49.1},{"date":"2020-06-29","series":"Workplaces","value":-48.3},{"date":"2020-07-02","series":"Workplaces","value":-47.3},{"date":"2020-07-05","series":"Workplaces","value":-50.4},{"date":"2020-07-09","series":"Workplaces","value":-52.0},{"date":"2020-07-13","series":"Workplaces","value":-48.5},{"date":"2020-07-17","series":"Workplaces","value":-48.5},{"date":"2020-07-22","series":"Workplaces","value":-49.1},{"date":"2020-07-27","series":"Workplaces","value":-49.1},{"date":"2020-08-01","series":"Workplaces","value":-49.8},{"date":"2020-08-05","series":"Workplaces","value":-49.5},{"date":"2020-08-10","series":"Workplaces","value":-49.8},{"date":"2020-08-15","series":"Workplaces","value":-49.8},{"date":"2020-08-20","series":"Workplaces","value":-49.1},{"date":"2020-08-25","series":"Workplaces","value":-49.4},{"date":"2020-08-30","series":"Workplaces","value":-49.1},{"date":"2020-09-04","series":"Workplaces","value":-49.8},{"date":"2020-09-08","series":"Workplaces","value":-52.0},{"date":"2020-09-13","series":"Workplaces","value":-51.9},{"date":"2020-09-16","series":"Workplaces","value":-48.3},{"date":"2020-09-21","series":"Workplaces","value":-47.9},{"date":"2020-09-27","series":"Workplaces","value":-47.5},{"date":"2020-10-04","series":"Workplaces","value":-47.0},{"date":"2020-10-08","series":"Workplaces","value":-46.6},{"date":"2020-10-12","series":"Workplaces","value":-47.3},{"date":"2020-10-15","series":"Workplaces","value":-49.1},{"date":"2020-10-19","series":"Workplaces","value":-48.5},{"date":"2020-10-23","series":"Workplaces","value":-47.3},{"date":"2020-10-27","series":"Workplaces","value":-46.6},{"date":"2020-10-31","series":"Workplaces","value":-47.5},{"date":"2020-11-05","series":"Workplaces","value":-47.3},{"date":"2020-11-09","series":"Workplaces","value":-47.0},{"date":"2020-11-13","series":"Workplaces","value":-46.6},{"date":"2020-11-17","series":"Workplaces","value":-47.3},{"date":"2020-11-21","series":"Workplaces","value":-46.3},{"date":"2020-11-25","series":"Workplaces","value":-47.3},{"date":"2020-11-28","series":"Workplaces","value":-52.3},{"date":"2020-12-02","series":"Workplaces","value":-53.5},{"date":"2020-12-05","series":"Workplaces","value":-48.5},{"date":"2020-12-09","series":"Workplaces","value":-47.3},{"date":"2020-12-13","series":"Workplaces","value":-47.0},{"date":"2020-12-17","series":"Workplaces","value":-47.3},{"date":"2020-12-21","series":"Workplaces","value":-47.5},{"date":"2020-12-24","series":"Workplaces","value":-48.5},{"date":"2020-12-26","series":"Workplaces","value":-53.5},{"date":"2020-12-30","series":"Workplaces","value":-54.8},{"date":"2021-01-04","series":"Workplaces","value":-54.1},{"date":"2021-01-08","series":"Workplaces","value":-54.8},{"date":"2021-01-10","series":"Workplaces","value":-51.0},{"date":"2021-01-14","series":"Workplaces","value":-50.4},{"date":"2021-01-17","series":"Workplaces","value":-52.3},{"date":"2021-01-21","series":"Workplaces","value":-55.4},{"date":"2021-01-25","series":"Workplaces","value":-54.8},{"date":"2021-01-29","series":"Workplaces","value":-49.8},{"date":"2021-02-01","series":"Workplaces","value":-53.5},{"date":"2021-02-05","series":"Workplaces","value":-53.5},{"date":"2021-02-10","series":"Workplaces","value":-49.1},{"date":"2021-02-14","series":"Workplaces","value":-51.0},{"date":"2021-02-17","series":"Workplaces","value":-53.5},{"date":"2021-02-20","series":"Workplaces","value":-55.8},{"date":"2021-02-23","series":"Workplaces","value":-53.5},{"date":"2021-02-27","series":"Workplaces","value":-49.1},{"date":"2021-03-04","series":"Workplaces","value":-49.1},{"date":"2021-03-10","series":"Workplaces","value":-48.5},{"date":"2021-03-15","series":"Workplaces","value":-47.9},{"date":"2021-03-20","series":"Workplaces","value":-47.3},{"date":"2021-03-26","series":"Workplaces","value":-46.6},{"date":"2021-04-01","series":"Workplaces","value":-47.0},{"date":"2021-04-07","series":"Workplaces","value":-47.3},{"date":"2021-04-13","series":"Workplaces","value":-47.0},{"date":"2021-04-19","series":"Workplaces","value":-47.3},{"date":"2021-04-25","series":"Workplaces","value":-46.6},{"date":"2021-05-01","series":"Workplaces","value":-45.8},{"date":"2021-05-08","series":"Workplaces","value":-45.4},{"date":"2021-05-14","series":"Workplaces","value":-45.4},{"date":"2021-05-20","series":"Workplaces","value":-45.0},{"date":"2021-05-26","series":"Workplaces","value":-44.5},{"date":"2021-05-30","series":"Workplaces","value":-44.1},{"date":"2021-06-02","series":"Workplaces","value":-47.3},{"date":"2021-06-05","series":"Workplaces","value":-47.3},{"date":"2021-06-08","series":"Workplaces","value":-42.3},{"date":"2021-06-13","series":"Workplaces","value":-41.9},{"date":"2021-06-17","series":"Workplaces","value":-41.9},{"date":"2021-06-21","series":"Workplaces","value":-42.9},{"date":"2021-06-25","series":"Workplaces","value":-43.8},{"date":"2021-06-29","series":"Workplaces","value":-42.3},{"date":"2021-07-03","series":"Workplaces","value":-42.6},{"date":"2021-07-05","series":"Workplaces","value":-45.4},{"date":"2021-07-08","series":"Workplaces","value":-47.3},{"date":"2021-07-11","series":"Workplaces","value":-46.6},{"date":"2021-07-14","series":"Workplaces","value":-42.9},{"date":"2021-07-16","series":"Workplaces","value":-42.3},{"date":"2021-07-19","series":"Workplaces","value":-42.6},
{"date":"2020-02-21","series":"Transit Stations","value":-7.3},{"date":"2020-02-23","series":"Transit Stations","value":-2.9},{"date":"2020-02-26","series":"Transit Stations","value":2.7},{"date":"2020-02-28","series":"Transit Stations","value":4.6},{"date":"2020-03-02","series":"Transit Stations","value":3.7},{"date":"2020-03-05","series":"Transit Stations","value":3.4},{"date":"2020-03-08","series":"Transit Stations","value":4.2},{"date":"2020-03-11","series":"Transit Stations","value":3.0},{"date":"2020-03-14","series":"Transit Stations","value":-3.5},{"date":"2020-03-16","series":"Transit Stations","value":-14.8},{"date":"2020-03-18","series":"Transit Stations","value":-27.3},{"date":"2020-03-20","series":"Transit Stations","value":-39.8},{"date":"2020-03-23","series":"Transit Stations","value":-54.8},{"date":"2020-03-26","series":"Transit Stations","value":-66.0},{"date":"2020-03-30","series":"Transit Stations","value":-71.6},{"date":"2020-04-04","series":"Transit Stations","value":-74.1},{"date":"2020-04-09","series":"Transit Stations","value":-75.0},{"date":"2020-04-14","series":"Transit Stations","value":-76.0},{"date":"2020-04-19","series":"Transit Stations","value":-75.8},{"date":"2020-04-25","series":"Transit Stations","value":-75.4},{"date":"2020-04-30","series":"Transit Stations","value":-74.8},{"date":"2020-05-05","series":"Transit Stations","value":-73.5},{"date":"2020-05-09","series":"Transit Stations","value":-72.9},{"date":"2020-05-13","series":"Transit Stations","value":-72.3},{"date":"2020-05-19","series":"Transit Stations","value":-71.6},{"date":"2020-05-23","series":"Transit Stations","value":-72.0},{"date":"2020-05-27","series":"Transit Stations","value":-72.3},{"date":"2020-05-31","series":"Transit Stations","value":-69.8},{"date":"2020-06-03","series":"Transit Stations","value":-66.0},{"date":"2020-06-05","series":"Transit Stations","value":-63.5},{"date":"2020-06-09","series":"Transit Stations","value":-62.5},{"date":"2020-06-12","series":"Transit Stations","value":-64.1},{"date":"2020-06-17","series":"Transit Stations","value":-64.8},{"date":"2020-06-22","series":"Transit Stations","value":-64.1},{"date":"2020-06-26","series":"Transit Stations","value":-63.5},{"date":"2020-07-01","series":"Transit Stations","value":-63.3},{"date":"2020-07-05","series":"Transit Stations","value":-64.1},{"date":"2020-07-09","series":"Transit Stations","value":-64.5},{"date":"2020-07-13","series":"Transit Stations","value":-65.4},{"date":"2020-07-17","series":"Transit Stations","value":-66.0},{"date":"2020-07-22","series":"Transit Stations","value":-66.0},{"date":"2020-07-27","series":"Transit Stations","value":-66.6},{"date":"2020-07-31","series":"Transit Stations","value":-66.0},{"date":"2020-08-04","series":"Transit Stations","value":-66.6},{"date":"2020-08-08","series":"Transit Stations","value":-66.0},{"date":"2020-08-12","series":"Transit Stations","value":-67.3},{"date":"2020-08-17","series":"Transit Stations","value":-67.5},{"date":"2020-08-22","series":"Transit Stations","value":-66.6},{"date":"2020-08-26","series":"Transit Stations","value":-65.4},{"date":"2020-08-30","series":"Transit Stations","value":-63.8},{"date":"2020-09-03","series":"Transit Stations","value":-65.4},{"date":"2020-09-07","series":"Transit Stations","value":-66.6},{"date":"2020-09-11","series":"Transit Stations","value":-67.3},{"date":"2020-09-15","series":"Transit Stations","value":-66.0},{"date":"2020-09-19","series":"Transit Stations","value":-64.8},{"date":"2020-09-23","series":"Transit Stations","value":-64.1},{"date":"2020-09-28","series":"Transit Stations","value":-63.8},{"date":"2020-10-04","series":"Transit Stations","value":-64.1},{"date":"2020-10-08","series":"Transit Stations","value":-64.5},{"date":"2020-10-14","series":"Transit Stations","value":-65.4},{"date":"2020-10-18","series":"Transit Stations","value":-66.0},{"date":"2020-10-22","series":"Transit Stations","value":-64.1},{"date":"2020-10-26","series":"Transit Stations","value":-63.5},{"date":"2020-10-30","series":"Transit Stations","value":-63.8},{"date":"2020-11-03","series":"Transit Stations","value":-64.8},{"date":"2020-11-07","series":"Transit Stations","value":-64.1},{"date":"2020-11-10","series":"Transit Stations","value":-62.1},{"date":"2020-11-13","series":"Transit Stations","value":-63.5},{"date":"2020-11-17","series":"Transit Stations","value":-64.8},{"date":"2020-11-21","series":"Transit Stations","value":-66.6},{"date":"2020-11-25","series":"Transit Stations","value":-68.5},{"date":"2020-11-29","series":"Transit Stations","value":-71.0},{"date":"2020-12-02","series":"Transit Stations","value":-71.6},{"date":"2020-12-05","series":"Transit Stations","value":-69.1},{"date":"2020-12-09","series":"Transit Stations","value":-68.5},{"date":"2020-12-13","series":"Transit Stations","value":-67.3},{"date":"2020-12-17","series":"Transit Stations","value":-69.8},{"date":"2020-12-21","series":"Transit Stations","value":-70.4},{"date":"2020-12-24","series":"Transit Stations","value":-71.0},{"date":"2020-12-27","series":"Transit Stations","value":-74.1},{"date":"2020-12-30","series":"Transit Stations","value":-75.4},{"date":"2021-01-03","series":"Transit Stations","value":-72.9},{"date":"2021-01-06","series":"Transit Stations","value":-70.4},{"date":"2021-01-10","series":"Transit Stations","value":-69.1},{"date":"2021-01-14","series":"Transit Stations","value":-70.4},{"date":"2021-01-18","series":"Transit Stations","value":-72.3},{"date":"2021-01-23","series":"Transit Stations","value":-74.1},{"date":"2021-01-27","series":"Transit Stations","value":-73.5},{"date":"2021-01-31","series":"Transit Stations","value":-72.3},{"date":"2021-02-04","series":"Transit Stations","value":-73.5},{"date":"2021-02-08","series":"Transit Stations","value":-71.6},{"date":"2021-02-12","series":"Transit Stations","value":-70.4},{"date":"2021-02-16","series":"Transit Stations","value":-72.3},{"date":"2021-02-20","series":"Transit Stations","value":-74.1},{"date":"2021-02-24","series":"Transit Stations","value":-72.3},{"date":"2021-02-27","series":"Transit Stations","value":-69.8},{"date":"2021-03-03","series":"Transit Stations","value":-69.1},{"date":"2021-03-08","series":"Transit Stations","value":-68.5},{"date":"2021-03-13","series":"Transit Stations","value":-67.3},{"date":"2021-03-18","series":"Transit Stations","value":-66.6},{"date":"2021-03-24","series":"Transit Stations","value":-66.0},{"date":"2021-03-30","series":"Transit Stations","value":-64.8},{"date":"2021-04-04","series":"Transit Stations","value":-64.1},{"date":"2021-04-08","series":"Transit Stations","value":-63.3},{"date":"2021-04-12","series":"Transit Stations","value":-64.1},{"date":"2021-04-17","series":"Transit Stations","value":-64.8},{"date":"2021-04-22","series":"Transit Stations","value":-64.1},{"date":"2021-04-27","series":"Transit Stations","value":-64.8},{"date":"2021-05-02","series":"Transit Stations","value":-62.9},{"date":"2021-05-06","series":"Transit Stations","value":-62.3},{"date":"2021-05-12","series":"Transit Stations","value":-63.5},{"date":"2021-05-16","series":"Transit Stations","value":-62.3},{"date":"2021-05-20","series":"Transit Stations","value":-61.0},{"date":"2021-05-25","series":"Transit Stations","value":-59.8},{"date":"2021-05-30","series":"Transit Stations","value":-60.4},{"date":"2021-06-03","series":"Transit Stations","value":-61.6},{"date":"2021-06-07","series":"Transit Stations","value":-59.1},{"date":"2021-06-11","series":"Transit Stations","value":-58.5},{"date":"2021-06-15","series":"Transit Stations","value":-57.3},{"date":"2021-06-19","series":"Transit Stations","value":-55.4},{"date":"2021-06-23","series":"Transit Stations","value":-56.6},{"date":"2021-06-27","series":"Transit Stations","value":-56.3},{"date":"2021-07-01","series":"Transit Stations","value":-55.4},{"date":"2021-07-04","series":"Transit Stations","value":-49.8},{"date":"2021-07-07","series":"Transit Stations","value":-51.0},{"date":"2021-07-10","series":"Transit Stations","value":-54.1},{"date":"2021-07-14","series":"Transit Stations","value":-56.0},{"date":"2021-07-16","series":"Transit Stations","value":-54.1},{"date":"2021-07-19","series":"Transit Stations","value":-52.9}
]
},
"vconcat": [
{
 "width": 547, "height": 310,
 "title": {"text": "District of Columbia:", "subtitle": "\u200b\u00a0\u00a0Daily Change In COVID-19 Cases* (000s):", "offset": -49},
 "layer": [
  {"data": {"name": "covid"}, "mark": {"type": "line", "strokeWidth": 2.3},
   "encoding": {
    "x": {"field": "date", "type": "temporal", "scale": {"type": "utc", "domain": [{"year": 2020, "month": 2, "date": 15, "utc": true}, {"year": 2021, "month": 7, "date": 22, "utc": true}]}, "axis": null},
    "y": {"field": "value", "type": "quantitative", "scale": {"domain": [-1.084, 0.607], "nice": false, "zero": false}, "axis": {"orient": "left", "values": [0, -0.4, -0.8], "format": ".1f", "labelExpr": "replace(datum.label, '\u2212', '-')", "tickSize": -10, "labelPadding": 23, "title": null}},
    "color": {"field": "series", "type": "nominal", "scale": {"domain": ["Total", "Active"], "range": ["#005c3a", "#8c7b5c"]}, "legend": {"orient": "none", "legendX": 80, "legendY": 51, "title": null}},
    "strokeDash": {"field": "series", "type": "nominal", "scale": {"domain": ["Total", "Active"], "range": [[1, 0], [8, 4]]}, "legend": {"orient": "none", "legendX": 80, "legendY": 51, "title": null}}
   }},
  {"data": {"values": [{"zero": 0}]}, "mark": {"type": "rule", "color": "#000000", "strokeWidth": 1.5},
   "encoding": {"y": {"field": "zero", "type": "quantitative", "axis": {"orient": "right", "values": [0, -0.4, -0.8], "format": ".1f", "labelExpr": "replace(datum.label, '\u2212', '-')", "tickSize": -10, "labelPadding": 22, "title": null}}}}
 ],
 "resolve": {"axis": {"y": "independent"}}
},
{
 "width": 547, "height": 310,
 "title": {"text": "\u200b\u00a0\u00a0Google Mobility Report** (%):", "offset": -44},
 "layer": [
  {"data": {"name": "residential"}, "mark": {"type": "line", "strokeWidth": 2.3},
   "encoding": {
    "x": {"field": "date", "type": "temporal", "scale": {"type": "utc", "domain": [{"year": 2020, "month": 2, "date": 15, "utc": true}, {"year": 2021, "month": 7, "date": 22, "utc": true}]}, "axis": null},
    "y": {"field": "value", "type": "quantitative", "scale": {"domain": [-1.59, 31.28], "nice": false, "zero": false}, "axis": {"orient": "left", "values": [0, 10, 20], "labelExpr": "replace(datum.label, '\u2212', '-')", "tickSize": -10, "labelPadding": 23, "title": null}},
    "color": {"field": "series", "type": "nominal", "scale": {"domain": ["Residential"], "range": ["#005c3a"]}, "legend": {"orient": "none", "legendX": 19.2, "legendY": 47.5, "title": null, "symbolOpacity": 0}}
   }},
  {"data": {"values": [{"zero": 0}]}, "mark": {"type": "rule", "color": "#000000", "strokeWidth": 1.5},
   "encoding": {"y": {"field": "zero", "type": "quantitative", "axis": {"orient": "right", "values": [0, 10, 20], "labelExpr": "replace(datum.label, '\u2212', '-')", "tickSize": -10, "labelPadding": 22, "title": null}}}}
 ],
 "resolve": {"axis": {"y": "independent"}}
},
{
 "width": 547, "height": 310,
 "layer": [
  {"data": {"name": "parks"}, "mark": {"type": "line", "strokeWidth": 2.3},
   "encoding": {
    "x": {"field": "date", "type": "temporal", "scale": {"type": "utc", "domain": [{"year": 2020, "month": 2, "date": 15, "utc": true}, {"year": 2021, "month": 7, "date": 22, "utc": true}]}, "axis": null},
    "y": {"field": "value", "type": "quantitative", "scale": {"domain": [-66.66, 34.98], "nice": false, "zero": false}, "axis": {"orient": "left", "values": [0, -20, -40, -60], "labelExpr": "replace(datum.label, '\u2212', '-')", "tickSize": -10, "labelPadding": 23, "title": null}},
    "color": {"field": "series", "type": "nominal", "scale": {"domain": ["Parks"], "range": ["#005c3a"]}, "legend": {"orient": "none", "legendX": 20.2, "legendY": 49, "title": null, "symbolOpacity": 0}}
   }},
  {"data": {"values": [{"zero": 0}]}, "mark": {"type": "rule", "color": "#000000", "strokeWidth": 1.5},
   "encoding": {"y": {"field": "zero", "type": "quantitative", "axis": {"orient": "right", "values": [0, -20, -40, -60], "labelExpr": "replace(datum.label, '\u2212', '-')", "tickSize": -10, "labelPadding": 22, "title": null}}}}
 ],
 "resolve": {"axis": {"y": "independent"}}
},
{
 "width": 547, "height": 308,
 "layer": [
  {"data": {"name": "grocery"}, "mark": {"type": "line", "strokeWidth": 2.3},
   "encoding": {
    "x": {"field": "date", "type": "temporal", "scale": {"type": "utc", "domain": [{"year": 2020, "month": 2, "date": 15, "utc": true}, {"year": 2021, "month": 7, "date": 22, "utc": true}]}, "axis": null},
    "y": {"field": "value", "type": "quantitative", "scale": {"domain": [-66.48, 23.45], "nice": false, "zero": false}, "axis": {"orient": "left", "values": [0, -20, -40, -60], "labelExpr": "replace(datum.label, '\u2212', '-')", "tickSize": -10, "labelPadding": 23, "title": null}},
    "color": {"field": "series", "type": "nominal", "scale": {"domain": ["Grocery & Pharmacy", "Retail & Recreation"], "range": ["#005c3a", "#8c7b5c"]}, "legend": {"orient": "none", "legendX": 35, "legendY": 4, "title": null}},
    "strokeDash": {"field": "series", "type": "nominal", "scale": {"domain": ["Grocery & Pharmacy", "Retail & Recreation"], "range": [[1, 0], [8, 4]]}, "legend": {"orient": "none", "legendX": 35, "legendY": 4, "title": null}}
   }},
  {"data": {"values": [{"zero": 0}]}, "mark": {"type": "rule", "color": "#000000", "strokeWidth": 1.5},
   "encoding": {"y": {"field": "zero", "type": "quantitative", "axis": {"orient": "right", "values": [0, -20, -40, -60], "labelExpr": "replace(datum.label, '\u2212', '-')", "tickSize": -10, "labelPadding": 22, "title": null}}}}
 ],
 "resolve": {"axis": {"y": "independent"}}
},
{
 "width": 547, "height": 300,
 "layer": [
  {"data": {"name": "work"}, "mark": {"type": "line", "strokeWidth": 2.3},
   "encoding": {
    "x": {"field": "date", "type": "temporal", "scale": {"type": "utc", "domain": [{"year": 2020, "month": 2, "date": 15, "utc": true}, {"year": 2021, "month": 7, "date": 22, "utc": true}]}, "axis": {"orient": "bottom", "tickCount": {"interval": "month", "step": 1}, "labels": false, "ticks": true, "tickSize": 9, "domain": false, "title": null}},
    "y": {"field": "value", "type": "quantitative", "scale": {"domain": [-79.0, 33.48], "nice": false, "zero": false}, "axis": {"orient": "left", "values": [0, -40], "labelExpr": "replace(datum.label, '\u2212', '-')", "tickSize": -10, "labelPadding": 23, "title": null}},
    "color": {"field": "series", "type": "nominal", "scale": {"domain": ["Workplaces", "Transit Stations"], "range": ["#005c3a", "#8c7b5c"]}, "legend": {"orient": "none", "legendX": 35, "legendY": 13.7, "title": null}},
    "strokeDash": {"field": "series", "type": "nominal", "scale": {"domain": ["Workplaces", "Transit Stations"], "range": [[1, 0], [8, 4]]}, "legend": {"orient": "none", "legendX": 35, "legendY": 13.7, "title": null}}
   }},
  {"data": {"values": [{"zero": 0}]}, "mark": {"type": "rule", "color": "#000000", "strokeWidth": 1.5},
   "encoding": {"y": {"field": "zero", "type": "quantitative", "axis": {"orient": "right", "values": [0, -40], "labelExpr": "replace(datum.label, '\u2212', '-')", "tickSize": -10, "labelPadding": 22, "title": null}}}}
 ],
 "resolve": {"axis": {"y": "independent"}}
}
],
"resolve": {"scale": {"color": "independent", "strokeDash": "independent"}, "legend": {"color": "independent", "strokeDash": "independent"}}
}
